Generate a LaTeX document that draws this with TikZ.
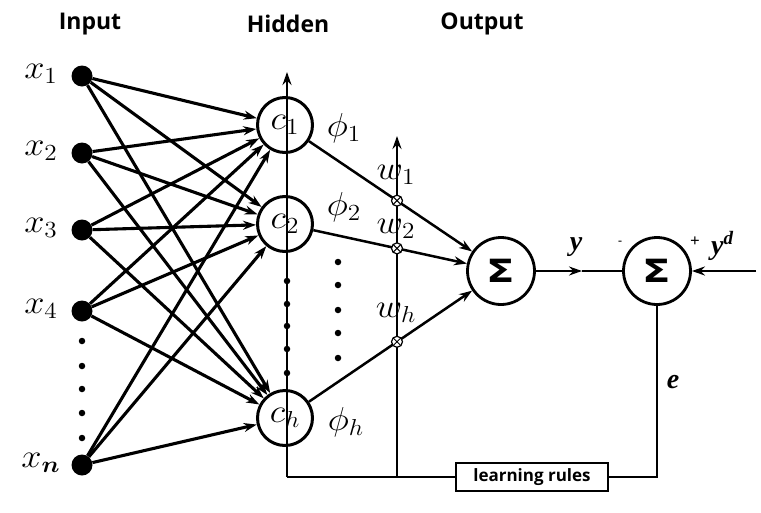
\documentclass[tikz,border=0pt]{standalone}
\usepackage{amsmath}
\usepackage{fontspec}
\usetikzlibrary{arrows.meta,calc}
\newfontfamily\hdrfont{Open Sans}
\newfontfamily\tnrfont{Liberation Serif}
\newfontfamily\dvsfont{DejaVu Sans}
\newcommand{\mylbl}[1]{\scalebox{1.75}[1.6]{\fontsize{20}{24}\selectfont$#1$}}
\begin{document}
\begin{tikzpicture}[x=1pt,y=-1pt,
  inp/.style={circle,fill=black,inner sep=0pt,minimum size=21pt},
  hid/.style={circle,draw,line width=3pt,minimum size=55pt,inner sep=0pt},
  sumn/.style={circle,draw,line width=2.8pt,minimum size=67pt,inner sep=0pt},
  junc/.style={circle,draw,line width=1.2pt,fill=white,minimum size=11pt,inner sep=0pt,
    path picture={\draw[line width=1pt] (path picture bounding box.north west)--(path picture bounding box.south east)
      (path picture bounding box.north east)--(path picture bounding box.south west);}},
  dotn/.style={circle,fill=black,inner sep=0pt,minimum size=6.5pt},
  arr/.style={-{Stealth[length=13pt,width=9pt]}},
  inline/.style={line width=3.1pt,arr},
  outline/.style={line width=2.5pt},
  mlabel/.style={inner sep=0pt},
  hdr/.style={inner sep=0pt,font=\hdrfont\bfseries\fontsize{23}{27}\selectfont},
  tlabel/.style={inner sep=0pt,font=\tnrfont\bfseries\itshape\fontsize{28}{32}\selectfont},
  lrbox/.style={draw,line width=2.5pt,minimum width=152pt,minimum height=28pt,inner sep=0pt,
    font=\hdrfont\bfseries\fontsize{17}{20}\selectfont}
]
\useasboundingbox (0,0) rectangle (761,512);
\fill[white] (0,0) rectangle (761,512);

% headers
\node[hdr] (hin) at (90,24) {Input};
\node[hdr] (hhid) at (288,24) {Hidden};
\node[hdr] (hout) at (482,24) {Output};

% inputs
\node[inp] (x1) at (82,76) {};
\node[inp] (x2) at (82,153) {};
\node[inp] (x3) at (82,230) {};
\node[inp] (x4) at (82,311) {};
\node[inp] (xn) at (82,465) {};
\node[mlabel] (lx1) at (41,74) {\mylbl{x_1}};
\node[mlabel] (lx2) at (41,151) {\mylbl{x_2}};
\node[mlabel] (lx3) at (41,228) {\mylbl{x_3}};
\node[mlabel] (lx4) at (41,309) {\mylbl{x_4}};
\node[mlabel] (lxn) at (41,463) {\mylbl{x_{\boldsymbol{n}}}};
\foreach \yy [count=\i] in {341,366,389,413,438} \node[dotn] (di\i) at (82,\yy) {};

% hidden
\coordinate (hb) at (287,477);
\coordinate (ht) at (287,72);
\draw[outline,arr] (hb) -- (ht);
\node[hid] (c1) at (285,125) {\mylbl{c_1}};
\node[hid] (c2) at (285,224) {\mylbl{c_2}};
\node[hid] (ch) at (285,418) {\mylbl{c_h}};
\foreach \yy [count=\i] in {281,304,326,349,373} \node[dotn] (dh\i) at (287,\yy) {};

% input connections
\foreach \a in {x1,x2,x3,x4,xn}
  \foreach \b in {c1,c2,ch}
    \draw[inline] (\a) -- (\b);

% phi labels
\node[mlabel] (p1) at (344,128) {\mylbl{\phi_1}};
\node[mlabel] (p2) at (344,207) {\mylbl{\phi_2}};
\node[mlabel] (ph) at (346,422) {\mylbl{\phi_h}};

% sums
\node[sumn] (s1) at (501,271) {\scalebox{1.3}[1]{\dvsfont\bfseries\fontsize{32}{32}\selectfont Σ}};
\node[sumn] (s2) at (657,271) {\scalebox{1.3}[1]{\dvsfont\bfseries\fontsize{32}{32}\selectfont Σ}};

% weight line
\coordinate (wb) at (397,477);
\coordinate (wt) at (397,136);
\draw[outline,arr] (wb) -- (wt);
\coordinate (j1) at ($(c1)!0.5185!(s1)$);
\coordinate (j2) at ($(c2)!0.5185!(s1)$);
\coordinate (jh) at ($(ch)!0.5185!(s1)$);
\draw[outline,arr] (c1) -- (s1);
\draw[outline,arr] (c2) -- (s1);
\draw[outline,arr] (ch) -- (s1);
\node[junc] (k1) at (j1) {};
\node[junc] (k2) at (j2) {};
\node[junc] (kh) at (jh) {};
\node[mlabel] (w1) at (396,175) {\mylbl{w_1}};
\node[mlabel] (w2) at (396,229) {\mylbl{w_2}};
\node[mlabel] (wh) at (396,313) {\mylbl{w_h}};
\foreach \yy [count=\i] in {262,285,310,333,358} \node[dotn] (dw\i) at (338,\yy) {};

% output side
\coordinate (ym) at (582,271);
\draw[outline,arr] (s1) -- (ym);
\draw[outline] (ym) -- (s2);
\coordinate (yin) at (756,271);
\draw[outline,arr] (yin) -- (s2);
\node[tlabel] (ly) at (576,247) {y};
\node[inner sep=0pt,font=\tnrfont\bfseries\fontsize{12}{12}\selectfont] (minus) at (620,243) {-};
\node[inner sep=0pt,font=\tnrfont\bfseries\fontsize{17}{17}\selectfont] (plus) at (695,242) {+};
\node[tlabel,anchor=base west] (lyd) at (711,254) {y\raisebox{10pt}{\fontsize{19}{19}\selectfont d}};
\node[tlabel] (le) at (673,382) {e};

% learning rules
\node[lrbox] (lr) at (532,477) {learning rules};
\draw[outline] (s2.south) |- (lr.east);
\draw[outline] (lr.west) -- (hb);
\end{tikzpicture}
\end{document}
